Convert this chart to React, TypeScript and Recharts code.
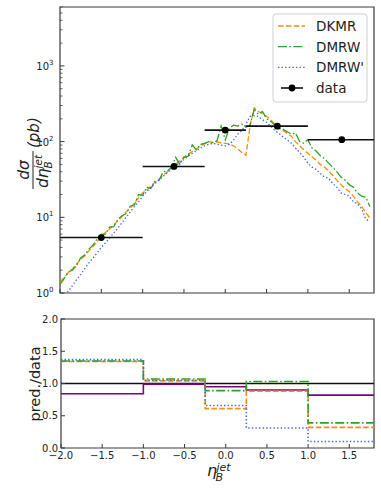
import React from 'react';
import { ComposedChart, Line, XAxis, YAxis, ReferenceArea } from 'recharts';

const FONT = '"DejaVu Sans", Verdana, sans-serif';
const TXT = '#222';
const FRAME = '#3a3a3a';

// ---------- top panel: theory curves ----------
const etaGrid = [
  -2.0, -1.95, -1.9, -1.85, -1.8, -1.75, -1.7, -1.65, -1.6, -1.55,
  -1.5, -1.45, -1.4, -1.35, -1.3, -1.25, -1.2, -1.15, -1.1, -1.05,
  -1.0, -0.95, -0.9, -0.85, -0.8, -0.75, -0.7, -0.65, -0.6, -0.55,
  -0.5, -0.45, -0.4, -0.35, -0.3, -0.25, -0.2, -0.15, -0.1, -0.05,
  0.0, 0.05, 0.1, 0.15, 0.2, 0.25, 0.3, 0.35, 0.4, 0.45,
  0.5, 0.55, 0.6, 0.65, 0.7, 0.75, 0.8, 0.85, 0.9, 0.95,
  1.0, 1.05, 1.1, 1.15, 1.2, 1.25, 1.3, 1.35, 1.4, 1.45,
  1.5, 1.55, 1.6, 1.65, 1.7, 1.75,
];

const dkmr = [
  1.4, 1.6, 1.85, 2.1, 2.4, 2.8, 3.1, 3.6, 4.1, 4.8,
  5.5, 6.3, 7.0, 7.9, 9.0, 10.2, 11.8, 13.2, 15.5, 18,
  21, 23, 26, 29, 32, 36, 40, 45, 50, 56,
  62, 68, 74, 80, 88, 94, 100, 96, 99, 96,
  95, 93, 88, 80, 72, 66, 160, 280, 250, 235,
  215, 195, 170, 150, 140, 128, 118, 100, 88, 78,
  70, 63, 57, 50, 46, 41, 36, 31, 27, 24,
  22, 19, 16, 14, 11.5, 9.8,
];

const dmrw = [
  1.3, 1.55, 1.9, 2.0, 2.3, 2.9, 3.2, 3.8, 4.3, 5.2,
  6.0, 6.0, 7.4, 7.5, 9.4, 10.5, 11.2, 14, 14.5, 20,
  19.5, 25, 24, 30, 31, 40, 41, 46, 62, 50,
  62, 64, 90, 78, 92, 95, 100, 98, 102, 160,
  105, 150, 165, 160, 170, 155, 165, 265, 230, 250,
  200, 185, 165, 150, 145, 135, 125, 130, 100, 95,
  106, 82, 75, 65, 60, 52, 46, 40, 34, 31,
  27, 25, 21, 19, 18.5, 13.9,
];

const dmrwPrime = [
  0.8, 0.9, 1.05, 1.25, 1.5, 1.75, 2.1, 2.5, 2.9, 3.4,
  4.0, 4.6, 5.3, 6.2, 7.2, 8.5, 10, 11.8, 13.8, 16,
  19, 22, 25, 28, 31, 35, 39, 43, 48, 53,
  58, 64, 70, 76, 82, 88, 92, 95, 92, 90,
  88, 92, 105, 125, 140, 170, 215, 220, 215, 195,
  180, 160, 140, 128, 115, 105, 95, 82, 72, 62,
  52, 46, 43, 38, 34, 33, 28, 25, 21, 20,
  19, 16, 15, 13, 9.5, 8.8,
];

// ---------- measured data ----------
const binLow = [-2.0, -1.0, -0.25, 0.25, 1.0];
const binHigh = [-1.0, -0.25, 0.25, 1.0, 1.8];
const dataEta = [-1.5, -0.62, 0.0, 0.63, 1.41];
const dataValue = [5.4, 47, 142, 160, 106];

// ---------- ratio panel ----------
const ratioEdges = [-2.0, -1.0, -0.25, 0.25, 1.0, 1.8];
const ratioDKMR = [1.34, 1.04, 0.61, 0.88, 0.32];
const ratioDMRW = [1.35, 1.07, 0.89, 1.03, 0.39];
const ratioDMRWPrime = [1.37, 1.05, 0.66, 0.31, 0.1];
const ratioOther = [0.84, 0.99, 0.95, 0.9, 0.82];
const ratioData = [1, 1, 1, 1, 1];

// ---------- ticks ----------
const xTicks = [-2.0, -1.5, -1.0, -0.5, 0.0, 0.5, 1.0, 1.5];
const xTickLabels = ['−2.0', '−1.5', '−1.0', '−0.5', '0.0', '0.5', '1.0', '1.5'];
const logMajorTicks = [1, 10, 100, 1000];
const logMajorExp = ['0', '1', '2', '3'];
const logMinorTicks = [
  2, 3, 4, 5, 6, 7, 8, 9,
  20, 30, 40, 50, 60, 70, 80, 90,
  200, 300, 400, 500, 600, 700, 800, 900,
  2000, 3000, 4000, 5000, 6000,
];
const ratioTicks = [0, 0.5, 1.0, 1.5, 2.0];
const ratioTickLabels = ['0.0', '0.5', '1.0', '1.5', '2.0'];

const series = [
  { key: 'dkmr', name: 'DKMR', color: 'darkorange', dash: '5.5 2.4' },
  { key: 'dmrw', name: 'DMRW', color: '#2ca02c', dash: '9 2.4 1.6 2.4' },
  { key: 'dmrwPrime', name: "DMRW'", color: 'royalblue', dash: '1.4 2.2' },
];

const curveTable = etaGrid.map((eta, i) => ({
  eta,
  dkmr: dkmr[i],
  dmrw: dmrw[i],
  dmrwPrime: dmrwPrime[i],
}));

const segmentTable: { eta: number; value: number | null }[] = [];
binLow.forEach((lo, i) => {
  segmentTable.push({ eta: lo, value: dataValue[i] });
  segmentTable.push({ eta: binHigh[i], value: dataValue[i] });
  segmentTable.push({ eta: binHigh[i], value: null });
});
const pointTable = dataEta.map((eta, i) => ({ eta, value: dataValue[i] }));

const ratioTable = ratioEdges.map((eta, i) => {
  const j = Math.min(i, ratioDKMR.length - 1);
  return {
    eta,
    dkmr: ratioDKMR[j],
    dmrw: ratioDMRW[j],
    dmrwPrime: ratioDMRWPrime[j],
    other: ratioOther[j],
    data: ratioData[j],
  };
});

// ---------- tick renderers ----------
const TopXTick = (props: any) => {
  const { x, y } = props;
  return <line x1={x} x2={x} y1={y} y2={y - 4} stroke={FRAME} strokeWidth={1} />;
};

const LogYTick = (props: any) => {
  const { x, y, payload } = props;
  const idx = logMajorTicks.indexOf(payload.value);
  if (idx < 0) {
    return <line x1={x} x2={x + 2.5} y1={y} y2={y} stroke={FRAME} strokeWidth={0.8} />;
  }
  return (
    <g>
      <line x1={x} x2={x + 4.5} y1={y} y2={y} stroke={FRAME} strokeWidth={1} />
      <text x={x - 11} y={y + 4} textAnchor="end" fontSize={10} fontFamily={FONT} fill={TXT}>
        10
      </text>
      <text x={x - 11} y={y - 1} textAnchor="start" fontSize={7} fontFamily={FONT} fill={TXT}>
        {logMajorExp[idx]}
      </text>
    </g>
  );
};

const BottomXTick = (props: any) => {
  const { x, y, payload } = props;
  const idx = xTicks.indexOf(payload.value);
  return (
    <g>
      <line x1={x} x2={x} y1={y} y2={y - 4} stroke={FRAME} strokeWidth={1} />
      <text x={x} y={y + 11} textAnchor="middle" fontSize={10} fontFamily={FONT} fill={TXT}>
        {xTickLabels[idx]}
      </text>
    </g>
  );
};

const RatioYTick = (props: any) => {
  const { x, y, payload } = props;
  const idx = ratioTicks.indexOf(payload.value);
  return (
    <g>
      <line x1={x} x2={x + 4} y1={y} y2={y} stroke={FRAME} strokeWidth={1} />
      <text x={x - 3} y={y + 3.5} textAnchor="end" fontSize={10} fontFamily={FONT} fill={TXT}>
        {ratioTickLabels[idx]}
      </text>
    </g>
  );
};

export default function App() {
  return (
    <div style={{ position: 'absolute', left: 0, top: 0, width: 381, height: 491, background: '#fff' }}>
      {/* top panel */}
      <div style={{ position: 'absolute', left: 0, top: 0 }}>
        <ComposedChart width={381} height={300} data={curveTable} margin={{ top: 7, right: 7, bottom: 0, left: 0 }}>
          <XAxis
            dataKey="eta"
            type="number"
            domain={[-2, 1.8]}
            allowDataOverflow
            ticks={xTicks}
            interval={0}
            height={7}
            tickSize={0}
            tickMargin={0}
            tickLine={false}
            axisLine={false}
            tick={<TopXTick />}
          />
          <YAxis
            type="number"
            scale="log"
            domain={[1, 6000]}
            allowDataOverflow
            ticks={[...logMajorTicks, ...logMinorTicks]}
            interval={0}
            width={60}
            tickSize={0}
            tickMargin={0}
            tickLine={false}
            axisLine={false}
            tick={<LogYTick />}
          />
          {series.map((s) => (
            <Line
              key={s.key}
              dataKey={s.key}
              type="linear"
              stroke={s.color}
              strokeWidth={1.3}
              strokeDasharray={s.dash}
              dot={false}
              isAnimationActive={false}
            />
          ))}
          <Line
            data={segmentTable}
            dataKey="value"
            type="linear"
            stroke="#111"
            strokeWidth={1.6}
            dot={false}
            connectNulls={false}
            isAnimationActive={false}
          />
          <Line
            data={pointTable}
            dataKey="value"
            type="linear"
            stroke="none"
            dot={{ r: 3.4, fill: '#000', stroke: '#000', strokeWidth: 0 }}
            isAnimationActive={false}
          />
          <ReferenceArea x1={-2} x2={1.8} y1={1} y2={6000} fill="none" stroke={FRAME} strokeWidth={1.2} ifOverflow="visible" />
        </ComposedChart>
      </div>

      {/* ratio panel */}
      <div style={{ position: 'absolute', left: 0, top: 300 }}>
        <ComposedChart width={381} height={191} data={ratioTable} margin={{ top: 19, right: 7, bottom: 0, left: 0 }}>
          <XAxis
            dataKey="eta"
            type="number"
            domain={[-2, 1.8]}
            allowDataOverflow
            ticks={xTicks}
            interval={0}
            height={43}
            tickSize={0}
            tickMargin={0}
            tickLine={false}
            axisLine={false}
            tick={<BottomXTick />}
          />
          <YAxis
            type="number"
            domain={[0, 2]}
            allowDataOverflow
            ticks={ratioTicks}
            interval={0}
            width={61}
            tickSize={0}
            tickMargin={0}
            tickLine={false}
            axisLine={false}
            tick={<RatioYTick />}
          />
          <Line dataKey="data" type="stepAfter" stroke="#111" strokeWidth={1.6} dot={false} isAnimationActive={false} />
          <Line dataKey="other" type="stepAfter" stroke="purple" strokeWidth={1.6} dot={false} isAnimationActive={false} />
          {series.map((s) => (
            <Line
              key={s.key}
              dataKey={s.key}
              type="stepAfter"
              stroke={s.color}
              strokeWidth={1.6}
              strokeDasharray={s.dash}
              dot={false}
              isAnimationActive={false}
            />
          ))}
          <ReferenceArea x1={-2} x2={1.8} y1={0} y2={2} fill="none" stroke={FRAME} strokeWidth={1.2} ifOverflow="visible" />
        </ComposedChart>
      </div>

      {/* titles & legend */}
      <svg
        width={381}
        height={491}
        style={{ position: 'absolute', left: 0, top: 0, pointerEvents: 'none' }}
        fontFamily={FONT}
      >
        {/* top y label */}
        <g transform="translate(33,153) rotate(-90)" fill={TXT}>
          <text x={-17} y={-4} textAnchor="middle" fontSize={15.5} fontStyle="italic">dσ</text>
          <line x1={-36} x2={2} y1={0} y2={0} stroke={TXT} strokeWidth={1} />
          <text x={-35} y={14.5} fontSize={15.5} fontStyle="italic">dη</text>
          <text x={-15.5} y={18.5} fontSize={10.5} fontStyle="italic">B</text>
          <text x={-15.5} y={8.5} fontSize={10.5} fontStyle="italic">jet</text>
          <text x={5} y={5.5} fontSize={15} fontStyle="italic">(pb)</text>
        </g>
        {/* bottom y label */}
        <text
          transform="translate(40,384) rotate(-90)"
          textAnchor="middle"
          fontSize={14.5}
          fill={TXT}
        >
          pred./data
        </text>
        {/* x label */}
        <text x={207} y={476} fontSize={16} fontStyle="italic" fill={TXT}>η</text>
        <text x={216.5} y={470.5} fontSize={11} fontStyle="italic" fill={TXT}>jet</text>
        <text x={215.5} y={481} fontSize={11} fontStyle="italic" fill={TXT}>B</text>

        {/* legend */}
        <rect x={273} y={14} width={94} height={88} rx={3} fill="#fff" fillOpacity={0.85} stroke="#d0d0d0" strokeWidth={1} />
        {series.map((s, i) => {
          const cy = 26 + i * 20.7;
          return (
            <g key={s.key}>
              <line x1={278} x2={305} y1={cy} y2={cy} stroke={s.color} strokeWidth={1.3} strokeDasharray={s.dash} />
              <text x={316} y={cy + 5} fontSize={13.5} fill={TXT}>{s.name}</text>
            </g>
          );
        })}
        <g>
          <line x1={281} x2={303} y1={88} y2={88} stroke="#111" strokeWidth={1.6} />
          <circle cx={292} cy={88} r={3.4} fill="#000" />
          <text x={316} y={93} fontSize={13.5} fill={TXT}>data</text>
        </g>
      </svg>
    </div>
  );
}
